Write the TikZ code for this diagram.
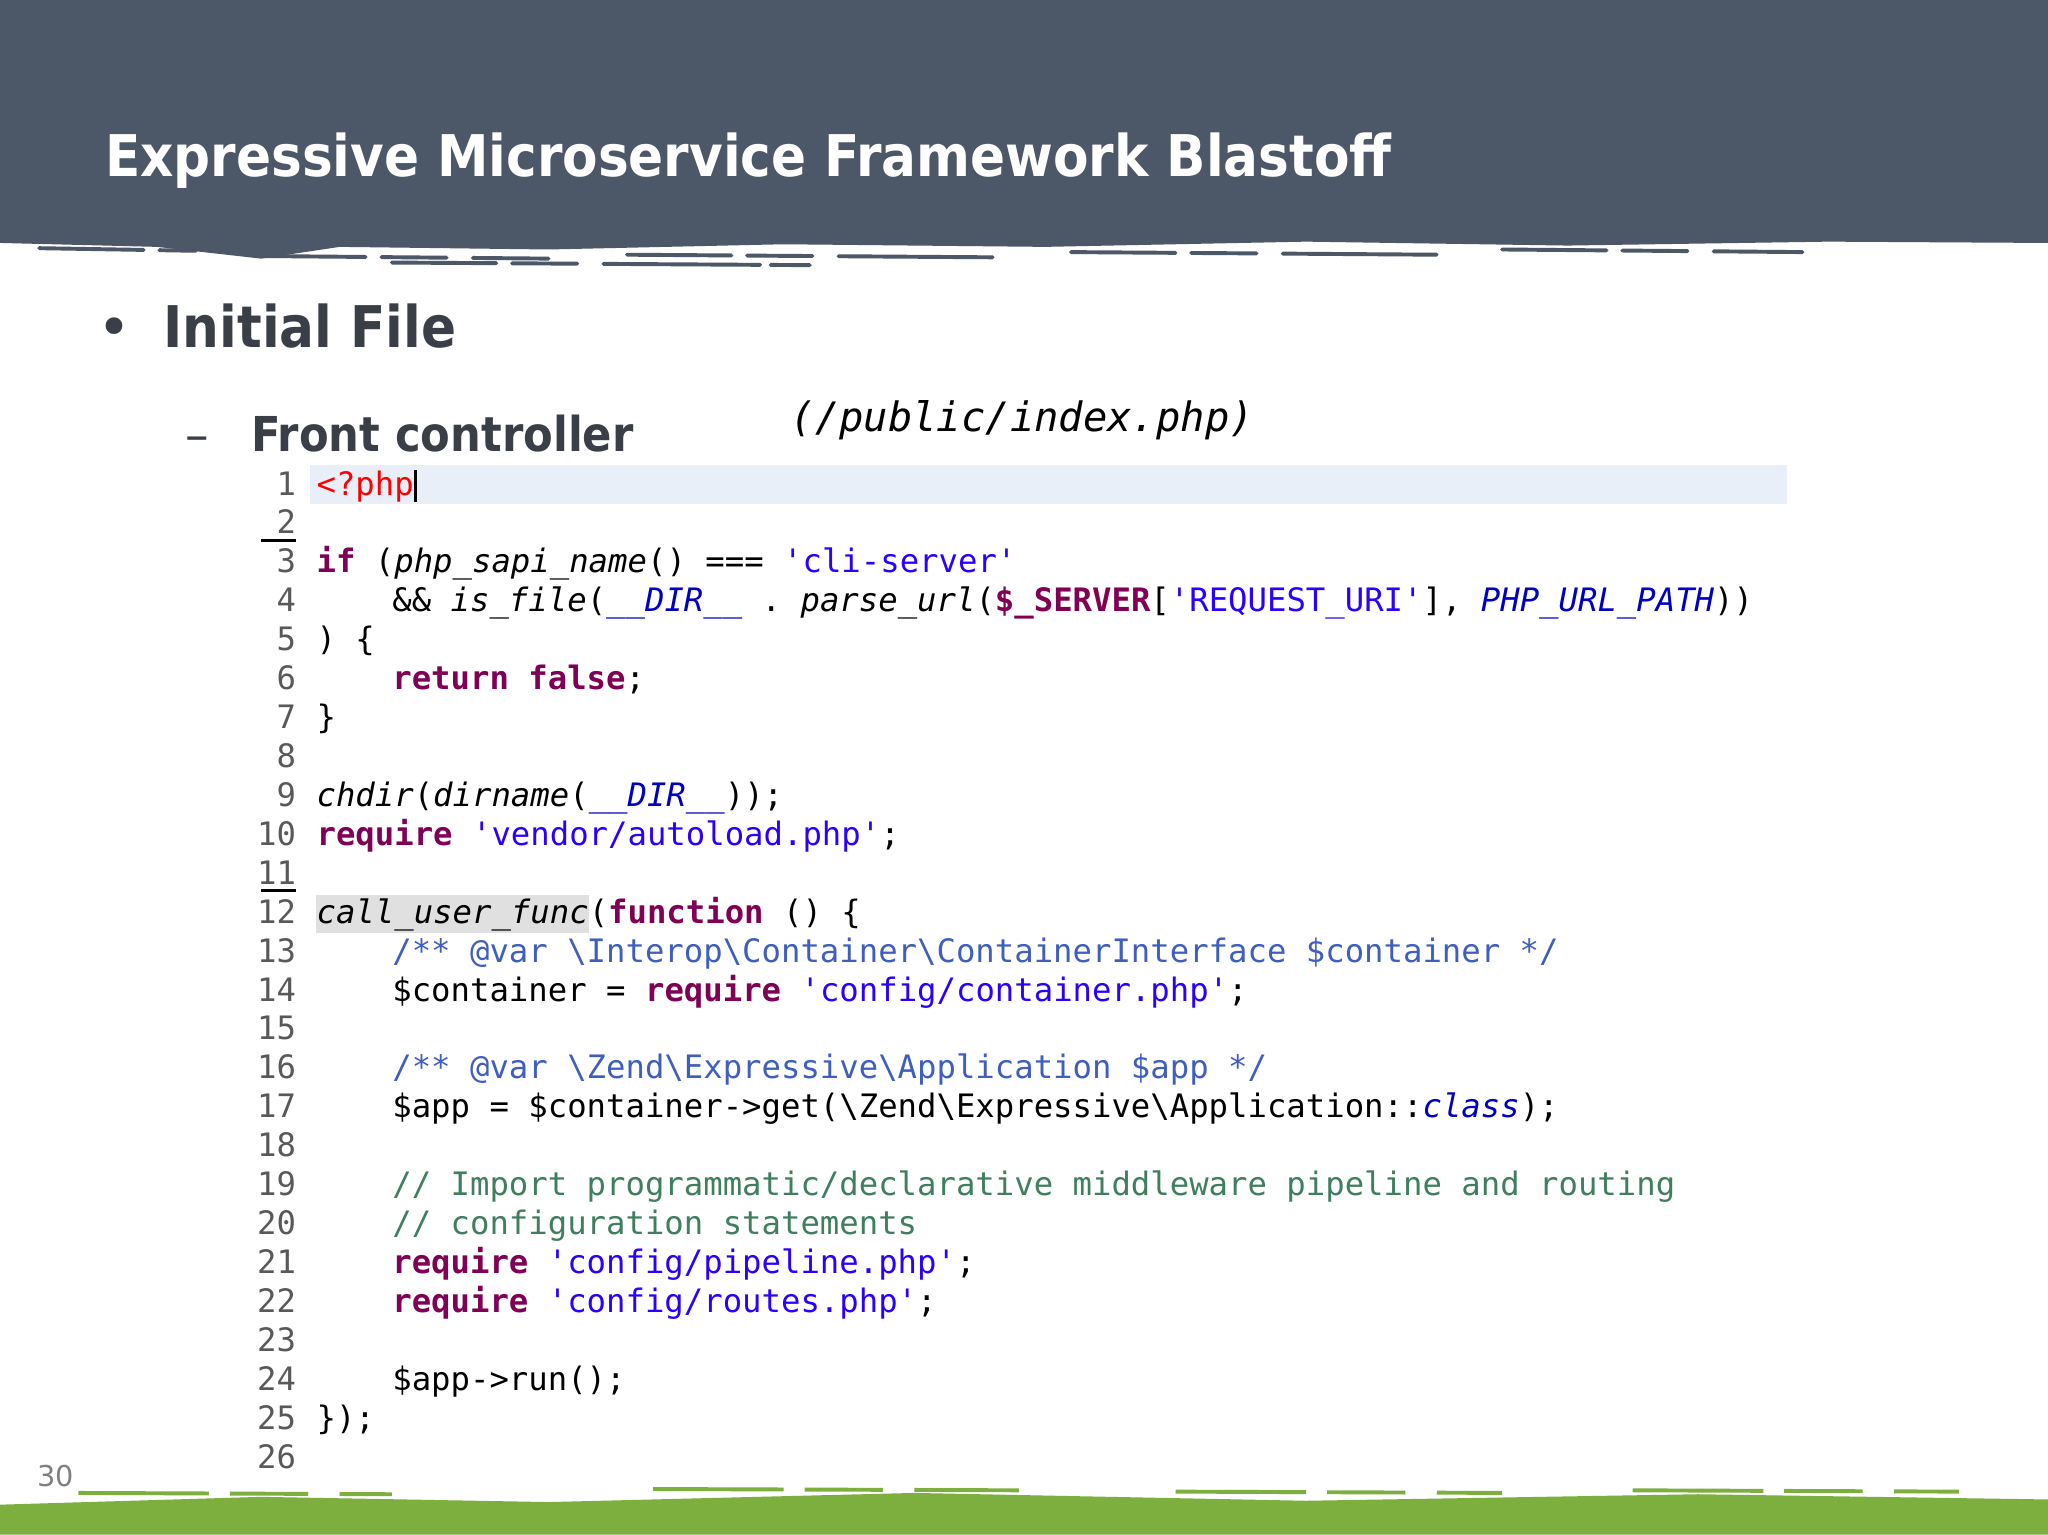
\documentclass[tikz,border=0pt]{standalone}
\usepackage{fontspec}
\setmainfont{DejaVu Sans}
\setmonofont{DejaVu Sans Mono}
\newfontfamily\condb{DejaVu Sans Condensed Bold}
\definecolor{hdr}{HTML}{4C5767}
\definecolor{grn}{HTML}{7DAF3F}
\definecolor{kwc}{HTML}{7F0055}
\definecolor{stc}{HTML}{2A00FF}
\definecolor{cmc}{HTML}{3F7F5F}
\definecolor{dcc}{HTML}{3F5FBF}
\definecolor{cnc}{HTML}{0000C0}
\definecolor{txt}{HTML}{3A3F47}
\definecolor{hl}{HTML}{E8EFF9}
\newcommand{\kw}[1]{\textcolor{kwc}{\textbf{#1}}}
\newcommand{\st}[1]{\textcolor{stc}{#1}}
\newcommand{\cm}[1]{\textcolor{cmc}{#1}}
\newcommand{\dc}[1]{\textcolor{dcc}{#1}}
\newcommand{\cn}[1]{\textcolor{cnc}{\itshape #1}}
\newcommand{\fn}[1]{\textit{#1}}
\newcommand{\bs}{\textbackslash}
\begin{document}
\begin{tikzpicture}[x=0.5pt,y=-0.5pt,
  code/.style={anchor=base west,inner sep=0,font=\ttfamily\fontsize{12.36}{12}\selectfont,text=black},
  lnum/.style={anchor=base east,inner sep=0,font=\ttfamily\fontsize{12.36}{12}\selectfont,text=black!65}]
\useasboundingbox (0,0) rectangle (1568,1175);
\fill[white] (0,0) rectangle (1568,1175);
% header
\fill[hdr] (0,0) -- (1568,0) -- (1568,186) -- (1400,185) -- (1200,188) -- (1000,185) -- (800,189) -- (600,187) -- (420,191) -- (260,189) -- (200,198) -- (120,189) -- (0,186) -- cycle;
\foreach \a/\b/\y in {200/420/196,480/760/195,820/1100/193,300/620/201,1150/1380/191,30/150/190}
  \draw[hdr,line width=1.5,line cap=round,dash pattern=on 40 off 6 on 25 off 10 on 60 off 4] (\a,\y) -- (\b,\y+2);
% footer
\fill[grn] (0,1152) -- (200,1146) -- (420,1150) -- (700,1143) -- (1000,1149) -- (1300,1144) -- (1568,1148) -- (1568,1175) -- (0,1175) -- cycle;
\foreach \a/\b/\y in {60/300/1143,500/780/1140,900/1150/1142,1250/1500/1141}
  \draw[grn,line width=1.5,dash pattern=on 50 off 8 on 30 off 12 on 70 off 5] (\a,\y) -- (\b,\y+1);
\node[anchor=base west,inner sep=0,text=white,font=\condb\fontsize{22}{22}\selectfont] (title) at (80,135) {Expressive Microservice Framework Blastoff};
\node[anchor=base west,inner sep=0,text=txt,font=\fontsize{22}{22}\selectfont] (b1) at (74,266) {•};
\node[anchor=base west,inner sep=0,text=txt,font=\condb\fontsize{22}{22}\selectfont] (t1) at (125,266) {Initial File};
\node[anchor=base west,inner sep=0,text=txt,font=\fontsize{18}{18}\selectfont] (b2) at (142,346) {–};
\node[anchor=base west,inner sep=0,text=txt,font=\condb\fontsize{18.4}{18}\selectfont] (t2) at (192,346) {Front controller};
\node[anchor=base west,inner sep=0,text=black,font=\ttfamily\itshape\fontsize{15.5}{15.5}\selectfont] (path) at (605,330) {(/public/index.php)};
\node[anchor=base west,inner sep=0,text=black!50,font=\fontsize{11}{11}\selectfont] (pg) at (28,1138) {30};
% code
\fill[hl] (237,356) rectangle (1368,386);
\fill[black!12] (242,685) rectangle (451,714);
\draw[black,line width=1] (318,360) -- (318,384);
\draw[black,line width=1] (200,414) -- (227,414);
\draw[black,line width=1] (200,682) -- (227,682);
\foreach \n in {1,...,26} \node[lnum] (l\n) at (227,{371+(\n-1)*29.8+8}) {\n};
\newcommand{\cl}[3]{\node[code] (c#1) at (#2,{371+(#1-1)*29.8+8}) {#3};}
\cl{1}{242}{\textcolor{red}{<?php}}
\cl{3}{242}{\kw{if} (\fn{php\_sapi\_name}() === \st{'cli-server'}}
\cl{4}{300}{\&\& \fn{is\_file}(\cn{\_\_DIR\_\_} . \fn{parse\_url}(\kw{\$\_SERVER}[\st{'REQUEST\_URI'}], \cn{PHP\_URL\_PATH}))}
\cl{5}{242}{) \{}
\cl{6}{300}{\kw{return} \kw{false};}
\cl{7}{242}{\}}
\cl{9}{242}{\fn{chdir}(\fn{dirname}(\cn{\_\_DIR\_\_}));}
\cl{10}{242}{\kw{require} \st{'vendor/autoload.php'};}
\cl{12}{242}{\fn{call\_user\_func}(\kw{function} () \{}
\cl{13}{300}{\dc{/** @var \bs Interop\bs Container\bs ContainerInterface \$container */}}
\cl{14}{300}{\$container = \kw{require} \st{'config/container.php'};}
\cl{16}{300}{\dc{/** @var \bs Zend\bs Expressive\bs Application \$app */}}
\cl{17}{300}{\$app = \$container->get(\bs Zend\bs Expressive\bs Application::\cn{class});}
\cl{19}{300}{\cm{// Import programmatic/declarative middleware pipeline and routing}}
\cl{20}{300}{\cm{// configuration statements}}
\cl{21}{300}{\kw{require} \st{'config/pipeline.php'};}
\cl{22}{300}{\kw{require} \st{'config/routes.php'};}
\cl{24}{300}{\$app->run();}
\cl{25}{242}{\});}
\end{tikzpicture}
\end{document}
